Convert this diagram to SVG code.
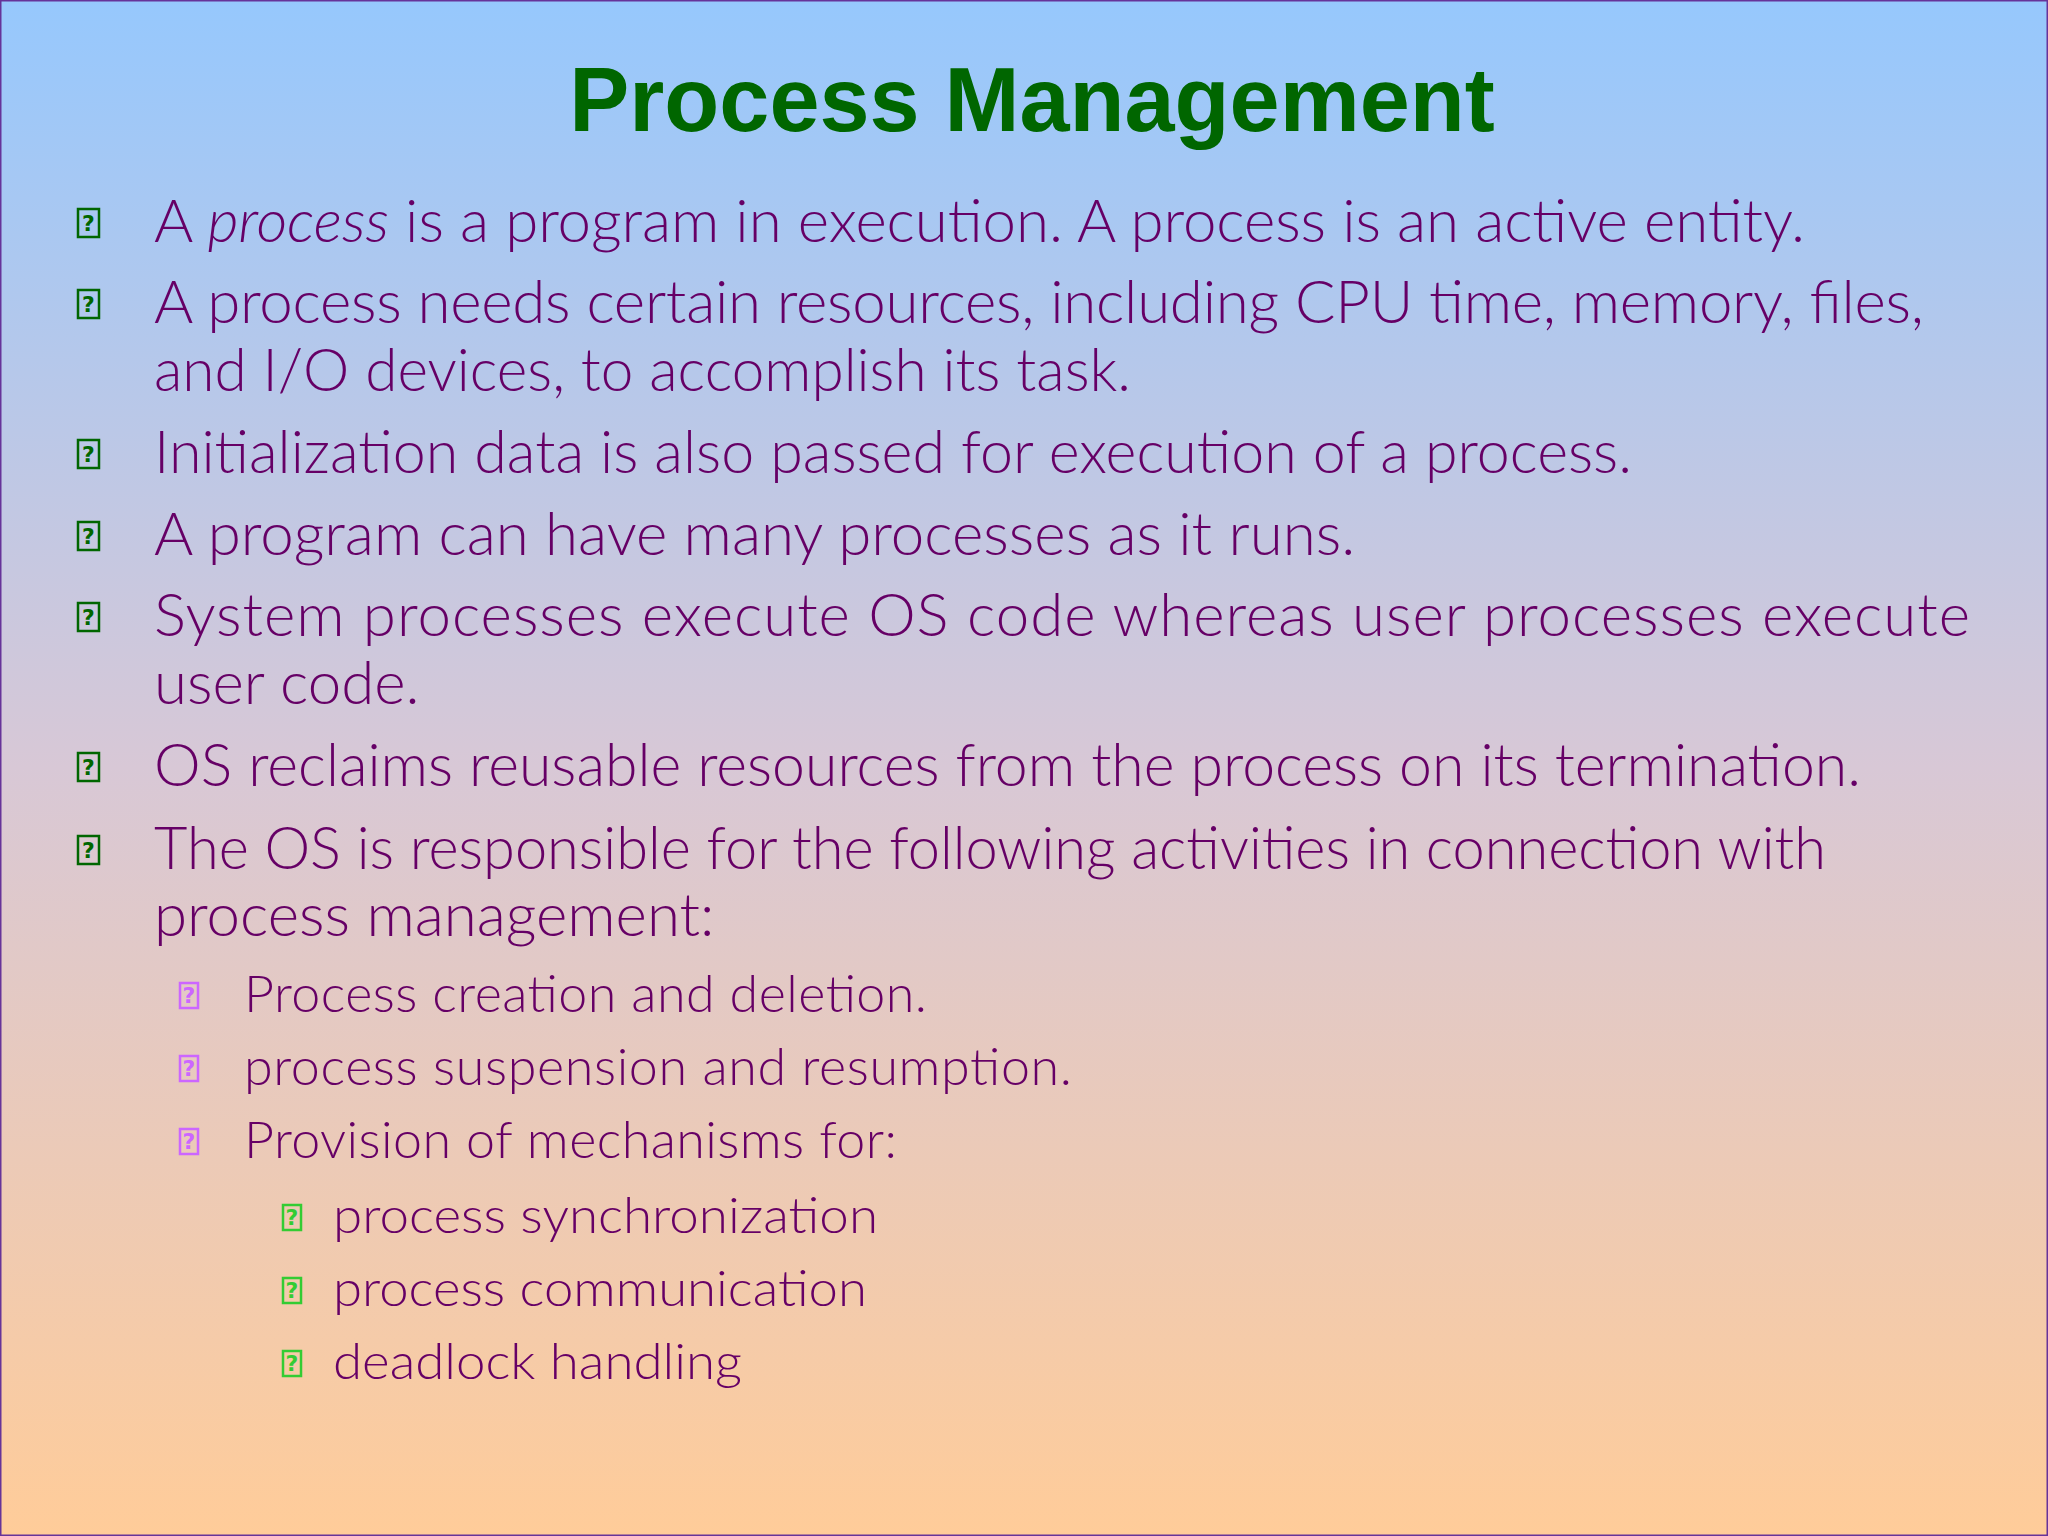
<svg xmlns="http://www.w3.org/2000/svg" width="2048" height="1536" viewBox="0 0 2048 1536">
<defs>
<linearGradient id="bg" x1="0" y1="0" x2="0" y2="1">
<stop offset="0" stop-color="#96c8fd"/>
<stop offset="0.5" stop-color="#d8c8d6"/>
<stop offset="1" stop-color="#ffcc99"/>
</linearGradient>
<style>
.t{font-family:Lato,"Open Sans","Liberation Sans",sans-serif;font-weight:300;fill:#660066}
.b1{font-size:60px}.b2{font-size:52px}.b3{font-size:50px}
.bx{fill:none;stroke-width:2.5}
.q{font-family:"DejaVu Sans",sans-serif;font-size:22px;font-weight:bold;text-anchor:middle}
</style>
</defs>
<rect x="0" y="0" width="2048" height="1536" fill="url(#bg)" stroke="#663399" stroke-width="3"/>
<text x="1032" y="131" text-anchor="middle" font-family="Liberation Sans,Arial,sans-serif" font-weight="bold" font-size="90" fill="#006600">Process Management</text>
<g id="bullets1" stroke="#006600" fill="#006600">
<g id="b1"><rect class="bx" x="78" y="209" width="21" height="28"/><text class="q" x="88.5" y="231" stroke="none">?</text></g>
<g><rect class="bx" x="78" y="290" width="21" height="28"/><text class="q" x="88.5" y="312" stroke="none">?</text></g>
<g><rect class="bx" x="78" y="440" width="21" height="28"/><text class="q" x="88.5" y="462" stroke="none">?</text></g>
<g><rect class="bx" x="78" y="522" width="21" height="28"/><text class="q" x="88.5" y="544" stroke="none">?</text></g>
<g><rect class="bx" x="78" y="603" width="21" height="28"/><text class="q" x="88.5" y="625" stroke="none">?</text></g>
<g><rect class="bx" x="78" y="753" width="21" height="28"/><text class="q" x="88.5" y="775" stroke="none">?</text></g>
<g><rect class="bx" x="78" y="836" width="21" height="28"/><text class="q" x="88.5" y="858" stroke="none">?</text></g>
</g>
<g id="bullets2" stroke="#cc66ff" fill="#cc66ff">
<g><rect class="bx" x="180" y="983" width="18" height="25"/><text class="q" x="189" y="1003" stroke="none" font-size="19">?</text></g>
<g><rect class="bx" x="180" y="1056" width="18" height="25"/><text class="q" x="189" y="1076" stroke="none" font-size="19">?</text></g>
<g><rect class="bx" x="180" y="1129" width="18" height="25"/><text class="q" x="189" y="1149" stroke="none" font-size="19">?</text></g>
</g>
<g id="bullets3" stroke="#33cc33" fill="#33cc33">
<g><rect class="bx" x="283" y="1205" width="18" height="25"/><text class="q" x="292" y="1225" stroke="none" font-size="19">?</text></g>
<g><rect class="bx" x="283" y="1278" width="18" height="25"/><text class="q" x="292" y="1298" stroke="none" font-size="19">?</text></g>
<g><rect class="bx" x="283" y="1351" width="18" height="25"/><text class="q" x="292" y="1371" stroke="none" font-size="19">?</text></g>
</g>
<g id="text">
<text class="t b1" x="154" y="242" textLength="1651" lengthAdjust="spacing">A <tspan font-style="italic">process</tspan> is a program in execution. A process is an active entity.</text>
<text class="t b1" x="154" y="323" textLength="1770" lengthAdjust="spacing">A process needs certain resources, including CPU time, memory, files,</text>
<text class="t b1" x="154" y="391" textLength="977" lengthAdjust="spacingAndGlyphs">and I/O devices, to accomplish its task.</text>
<text class="t b1" x="154" y="473" textLength="1478" lengthAdjust="spacingAndGlyphs">Initialization data is also passed for execution of a process.</text>
<text class="t b1" x="154" y="555">A program can have many processes as it runs.</text>
<text class="t b1" x="154" y="636" textLength="1816" lengthAdjust="spacing">System processes execute OS code whereas user processes execute</text>
<text class="t b1" x="154" y="704">user code.</text>
<text class="t b1" x="154" y="786" textLength="1707" lengthAdjust="spacingAndGlyphs">OS reclaims reusable resources from the process on its termination.</text>
<text class="t b1" x="154" y="869" textLength="1672" lengthAdjust="spacingAndGlyphs">The OS is responsible for the following activities in connection with</text>
<text class="t b1" x="154" y="936">process management:</text>
<text class="t b2" x="244" y="1012" textLength="683" lengthAdjust="spacing">Process creation and deletion.</text>
<text class="t b2" x="244" y="1085" textLength="828" lengthAdjust="spacing">process suspension and resumption.</text>
<text class="t b2" x="244" y="1158" textLength="653" lengthAdjust="spacing">Provision of mechanisms for:</text>
<text class="t b3" x="333" y="1233" textLength="545" lengthAdjust="spacingAndGlyphs">process synchronization</text>
<text class="t b3" x="333" y="1306" textLength="534" lengthAdjust="spacingAndGlyphs">process communication</text>
<text class="t b3" x="333" y="1379" textLength="409" lengthAdjust="spacingAndGlyphs">deadlock handling</text>
</g>
</svg>
